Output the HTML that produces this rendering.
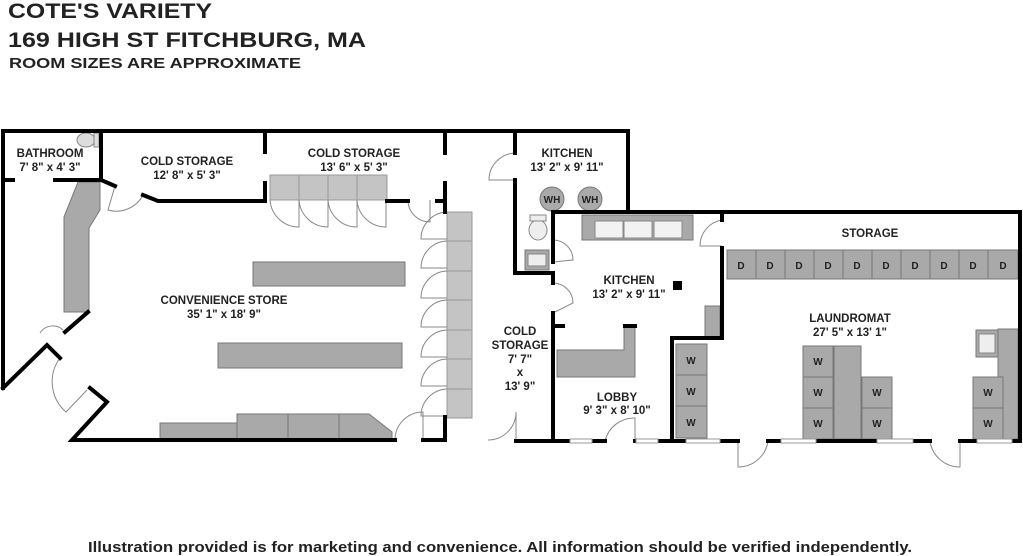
<!DOCTYPE html>
<html><head><meta charset="utf-8"><style>
html,body{margin:0;padding:0;background:#fff;}
svg{display:block;}
text{font-family:"Liberation Sans",Arial,sans-serif;font-weight:bold;fill:#222;}
.w{stroke:#000;stroke-width:4;fill:none;stroke-linecap:square;}
.d{stroke:#888;stroke-width:1;fill:none;}
.g{fill:#a9a9a9;stroke:#777;stroke-width:1;}
.lg{fill:#c4c4c4;stroke:#999;stroke-width:1;}
.win{fill:#fff;stroke:#999;stroke-width:1;}
.l{font-size:11.5px;text-anchor:middle;}
.s{font-size:10px;text-anchor:middle;}
</style></head><body>
<svg width="1023" height="556" viewBox="0 0 1023 556" xmlns="http://www.w3.org/2000/svg">
<text x="8" y="18" font-size="21" textLength="204" lengthAdjust="spacingAndGlyphs">COTE'S VARIETY</text>
<text x="8" y="47" font-size="21" textLength="358" lengthAdjust="spacingAndGlyphs">169 HIGH ST FITCHBURG, MA</text>
<text x="9" y="68" font-size="15" textLength="292" lengthAdjust="spacingAndGlyphs">ROOM SIZES ARE APPROXIMATE</text>

<!-- gray fixtures left -->
<polygon class="g" points="78,182 100,182 100,210 89,228 89,312 64,312 64,217"/>
<rect class="g" x="253" y="262" width="152" height="24"/>
<rect class="g" x="218" y="343" width="184" height="25"/>
<rect class="g" x="160" y="423" width="77" height="17"/>
<rect class="g" x="237" y="414" width="51" height="26"/>
<rect class="g" x="288" y="414" width="51" height="26"/>
<polygon class="g" points="339,414 369,414 392,432 392,440 339,440"/>
<!-- top coolers -->
<g class="lg"><rect x="270" y="175" width="29" height="25"/><rect x="299" y="175" width="29" height="25"/><rect x="328" y="175" width="29" height="25"/><rect x="357" y="175" width="30" height="25"/></g>
<g class="d">
<path d="M270 200 A29 29 0 0 0 299 227 L299 200"/><path d="M299 200 A29 29 0 0 0 328 227 L328 200"/><path d="M328 200 A29 29 0 0 0 357 227 L357 200"/><path d="M357 200 A29 29 0 0 0 386 227 L386 200"/>
</g>
<!-- right cooler column -->
<rect class="lg" x="447" y="212" width="25" height="206"/>
<g stroke="#999" stroke-width="1"><line x1="447" y1="241" x2="472" y2="241"/><line x1="447" y1="271" x2="472" y2="271"/><line x1="447" y1="300" x2="472" y2="300"/><line x1="447" y1="330" x2="472" y2="330"/><line x1="447" y1="359" x2="472" y2="359"/><line x1="447" y1="389" x2="472" y2="389"/></g>
<g class="d">
<path d="M447 212 A27 27 0 0 0 421 239 L447 239"/>
<path d="M447 241 A27 27 0 0 0 421 268 L447 268"/>
<path d="M447 271 A27 27 0 0 0 421 298 L447 298"/>
<path d="M447 300 A27 27 0 0 0 421 327 L447 327"/>
<path d="M447 330 A27 27 0 0 0 421 357 L447 357"/>
<path d="M447 359 A27 27 0 0 0 421 386 L447 386"/>
<path d="M447 389 A27 27 0 0 0 421 416 L447 416"/>
<path d="M395 440 A28 28 0 0 1 423 412 L423 440"/>
<path d="M488 440 A28 28 0 0 0 516 412 L516 440" transform="translate(-0,0)"/>
<path d="M408 200 A22 22 0 0 0 430 222 L430 200"/>
<path d="M115 186 L108 210 A30 30 0 0 0 143 195"/>
<path d="M515 153 A27 27 0 0 0 489 180 L515 180"/>
<path d="M40 333 A15 15 0 0 1 63 330"/>
<path d="M60 358 A40 40 0 0 0 66 412 L87 390"/>
<path d="M722 220 A26 26 0 0 0 700 246 L722 246"/>
<path d="M553 240 A20 20 0 0 1 573 260 L553 262"/>
<path d="M553 283 A20 20 0 0 1 573 303 L553 313"/>
<path d="M605 441 A30 30 0 0 1 635 418 L635 441"/>
<path d="M738 441 L738 467 A30 30 0 0 0 768 441"/>
<path d="M930 441 A30 30 0 0 0 960 467 L960 441"/>
</g>
<!-- toilet bathroom -->
<ellipse cx="86" cy="140" rx="9" ry="7" fill="#ddd" stroke="#888"/>
<rect x="94" y="133" width="5" height="14" fill="#ddd" stroke="#888"/>

<!-- upper kitchen -->
<circle cx="552" cy="199" r="12" fill="#aaa" stroke="#777"/>
<circle cx="590" cy="199" r="12" fill="#aaa" stroke="#777"/>
<text x="552" y="203" class="s">WH</text><text x="590" y="203" class="s">WH</text>
<!-- small bath fixtures -->
<ellipse cx="538" cy="230" rx="9" ry="10" fill="#eee" stroke="#888"/>
<rect x="530" y="215" width="16" height="6" fill="#eee" stroke="#888"/>
<rect x="525" y="250" width="24" height="20" class="g"/><rect x="528" y="254" width="18" height="12" fill="#eee" stroke="#888"/>
<!-- kitchen sinks -->
<rect class="g" x="582" y="215" width="111" height="25"/>
<rect x="595" y="221" width="28" height="17" fill="#f2f2f2" stroke="#888"/>
<rect x="624" y="221" width="28" height="17" fill="#f2f2f2" stroke="#888"/>
<rect x="654" y="221" width="28" height="17" fill="#f2f2f2" stroke="#888"/>
<rect x="673" y="281" width="9" height="9" fill="#000"/>
<polygon class="g" points="557,350 624,350 624,326 635,326 635,377 557,377"/>
<rect class="g" x="705" y="306" width="15" height="31"/>

<!-- laundromat -->
<g class="g">
<rect x="727" y="250" width="29" height="29"/><rect x="756" y="250" width="29" height="29"/><rect x="785" y="250" width="29" height="29"/><rect x="814" y="250" width="29" height="29"/><rect x="843" y="250" width="29" height="29"/><rect x="872" y="250" width="29" height="29"/><rect x="901" y="250" width="29" height="29"/><rect x="930" y="250" width="29" height="29"/><rect x="959" y="250" width="29" height="29"/><rect x="988" y="250" width="30" height="29"/>
<rect x="676" y="344" width="31" height="31"/><rect x="676" y="375" width="31" height="31"/><rect x="676" y="406" width="31" height="32"/>
<rect x="803" y="346" width="30" height="31"/><rect x="803" y="377" width="30" height="31"/><rect x="803" y="408" width="30" height="31"/>
<rect x="834" y="346" width="27" height="93"/>
<rect x="862" y="377" width="30" height="31"/><rect x="862" y="408" width="30" height="31"/>
<rect x="998" y="329" width="20" height="110"/>
<rect x="973" y="377" width="30" height="31"/><rect x="973" y="408" width="30" height="31"/>
<rect x="976" y="330" width="22" height="27"/>
</g>
<rect x="979" y="334" width="16" height="19" fill="#eee" stroke="#888"/>
<g class="s">
<text x="741" y="269">D</text><text x="770" y="269">D</text><text x="799" y="269">D</text><text x="828" y="269">D</text><text x="857" y="269">D</text><text x="886" y="269">D</text><text x="915" y="269">D</text><text x="944" y="269">D</text><text x="973" y="269">D</text><text x="1003" y="269">D</text>
<text x="691" y="364">W</text><text x="691" y="395">W</text><text x="691" y="426">W</text>
<text x="818" y="365">W</text><text x="818" y="396">W</text><text x="818" y="427">W</text>
<text x="877" y="396">W</text><text x="877" y="427">W</text>
<text x="988" y="396">W</text><text x="988" y="427">W</text>
</g>

<!-- walls -->
<g class="w">
<path d="M3 388 L3 131 L628 131 L628 212"/>
<path d="M3 180 L13 180 M55 180 L101 180 L101 131"/>
<path d="M101 180 L115 186 M143 195 L158 201 L265 201 L265 183 M265 152 L265 131"/>
<path d="M387 201 L408 201"/>
<path d="M445 131 L445 153 M445 183 L445 212 M437 201 L445 201"/>
<path d="M3 388 L47 345 L60 358 M65 332 L88 312"/>
<path d="M90 388 L107 402 L72 440 L395 440"/>
<path d="M423 440 L445 440 L445 417"/>
<path d="M516 441 L553 441"/>
<path d="M515 131 L515 153 M515 180 L515 273 L553 273 L553 283 M553 262 L553 212 L1020 212 L1020 441"/>
<path d="M553 313 L553 441 L605 441 M635 441 L738 441 M768 441 L930 441 M960 441 L1020 441"/>
<path d="M553 326 L563 326 M625 326 L635 326"/>
<path d="M722 212 L722 220 M722 248 L722 338 L672 338 L672 441"/>
</g>
<!-- windows -->
<g class="win">
<rect x="570" y="439" width="22" height="4"/><rect x="636" y="439" width="22" height="4"/><rect x="686" y="439" width="34" height="4"/><rect x="781" y="439" width="35" height="4"/><rect x="877" y="439" width="36" height="4"/><rect x="977" y="439" width="35" height="4"/>
</g>

<!-- labels -->
<g class="l">
<text x="50" y="157">BATHROOM</text><text x="50" y="171">7' 8" x 4' 3"</text>
<text x="187" y="165">COLD STORAGE</text><text x="187" y="179">12' 8" x 5' 3"</text>
<text x="354" y="157">COLD STORAGE</text><text x="354" y="171">13' 6" x 5' 3"</text>
<text x="224" y="304">CONVENIENCE STORE</text><text x="224" y="318">35' 1" x 18' 9"</text>
<text x="520" y="335">COLD</text><text x="520" y="349">STORAGE</text><text x="520" y="363">7' 7"</text><text x="520" y="376">x</text><text x="520" y="390">13' 9"</text>
<text x="567" y="157">KITCHEN</text><text x="567" y="171">13' 2" x 9' 11"</text>
<text x="629" y="284">KITCHEN</text><text x="629" y="298">13' 2" x 9' 11"</text>
<text x="617" y="401">LOBBY</text><text x="617" y="414">9' 3" x 8' 10"</text>
<text x="870" y="237">STORAGE</text>
<text x="850" y="322">LAUNDROMAT</text><text x="850" y="336">27' 5" x 13' 1"</text>
</g>
<text x="88" y="552" font-size="15" textLength="824" lengthAdjust="spacingAndGlyphs">Illustration provided is for marketing and convenience. All information should be verified independently.</text>
</svg>
</body></html>
